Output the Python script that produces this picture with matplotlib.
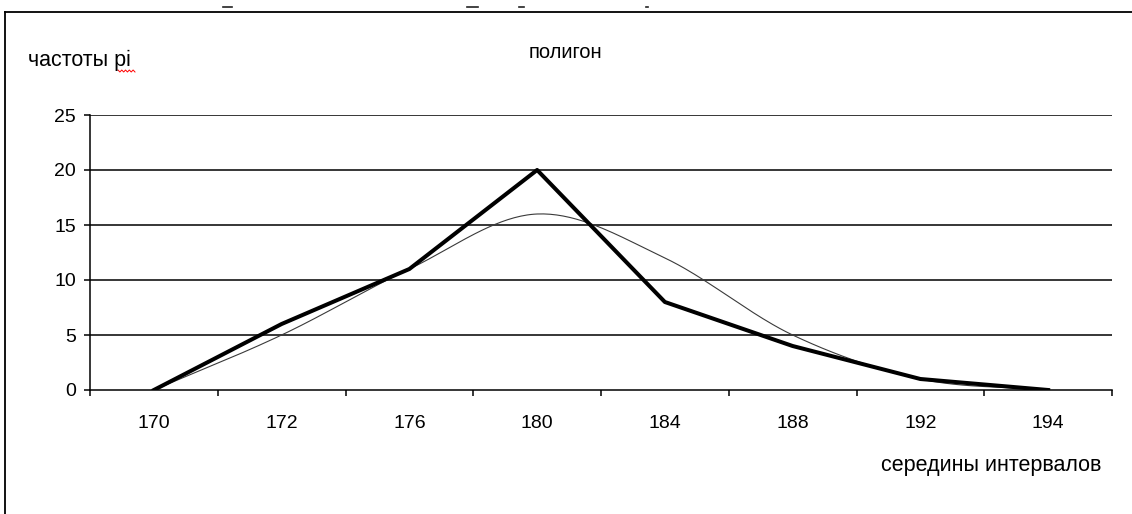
import numpy as np
import matplotlib
matplotlib.use("Agg")
import matplotlib.pyplot as plt
from matplotlib.lines import Line2D

categories = ["170", "172", "176", "180", "184", "188", "192", "194"]
polygon_freq = [0, 6, 11, 20, 8, 4, 1, 0]
smooth_freq = [0, 5, 11, 16, 12, 5, 1, 0]
y_ticks = [0, 5, 10, 15, 20, 25]


def catmull_rom(xs, ys, n=40):
    xs = np.asarray(xs, float)
    ys = np.asarray(ys, float)
    px = np.concatenate([[2 * xs[0] - xs[1]], xs, [2 * xs[-1] - xs[-2]]])
    py = np.concatenate([[2 * ys[0] - ys[1]], ys, [2 * ys[-1] - ys[-2]]])
    outx, outy = [], []
    for i in range(1, len(px) - 2):
        t = np.linspace(0, 1, n)
        for arr, out in ((px, outx), (py, outy)):
            p0, p1, p2, p3 = arr[i - 1], arr[i], arr[i + 1], arr[i + 2]
            out.extend(0.5 * ((2 * p1) + (-p0 + p2) * t
                              + (2 * p0 - 5 * p1 + 4 * p2 - p3) * t ** 2
                              + (-p0 + 3 * p1 - 3 * p2 + p3) * t ** 3))
    return np.array(outx), np.array(outy)


plt.rcParams['font.family'] = ['Liberation Sans', 'DejaVu Sans']

fig = plt.figure(figsize=(11.32, 5.14), dpi=100)
W, H = 1132, 514


def fline(x0, y0, x1, y1, **kw):
    fig.add_artist(Line2D([x0 / W, x1 / W], [1 - y0 / H, 1 - y1 / H],
                          transform=fig.transFigure, **kw))


# outer frame
fline(5, 12, 5, 514, color='black', lw=1.3)
fline(5, 12, 1132, 12, color='black', lw=1.3)
# cut-off fragments above the frame
for a, b in ((223, 232), (467, 478), (519, 524), (646, 648)):
    fline(a, 7, b, 7, color='#222222', lw=1.2)

ax = fig.add_axes([90 / W, (H - 390) / H, (1112 - 90) / W, (390 - 115) / H])
x = np.arange(len(categories))

for yv in y_ticks[1:]:
    ax.axhline(yv, color='black', lw=1.1, zorder=1)

sx, sy = catmull_rom(x, smooth_freq)
ax.plot(sx, sy, color='#3a3a3a', lw=0.8, zorder=2)
ax.plot(x, polygon_freq, color='black', lw=2.9, solid_joinstyle='round', zorder=3)

ax.set_xlim(-0.5, len(categories) - 0.5)
ax.set_ylim(0, 25)
ax.set_yticks(y_ticks)
ax.set_yticklabels([str(v) for v in y_ticks])
ax.set_xticks(x)
ax.set_xticklabels(categories)
ax.set_xticks(np.arange(-0.5, len(categories)), minor=True)
ax.tick_params(axis='x', which='major', length=0, pad=18, labelsize=14)
ax.tick_params(axis='x', which='minor', length=4.5, width=1.1, direction='out')
ax.tick_params(axis='y', length=4, width=1.1, direction='out', labelsize=14, pad=6)
for s in ('top', 'right'):
    ax.spines[s].set_visible(False)
for s in ('left', 'bottom'):
    ax.spines[s].set_linewidth(1.1)

fig.text(28 / W, 1 - 60 / H, "частоты рі", fontsize=15.5, va='center', ha='left')
# spell-check squiggle
sqx = np.linspace(118, 135, 10)
sqy = 71 + np.where(np.arange(10) % 2 == 0, -1, 1)
fig.add_artist(Line2D(sqx / W, 1 - sqy / H, transform=fig.transFigure, color='red', lw=0.7))
fig.text(565 / W, 1 - 52 / H, "полигон", fontsize=14.5, va='center', ha='center')
fig.text(1101 / W, 1 - 465 / H, "середины интервалов", fontsize=15.5, va='center', ha='right')

fig.savefig("out.png", dpi=100)
